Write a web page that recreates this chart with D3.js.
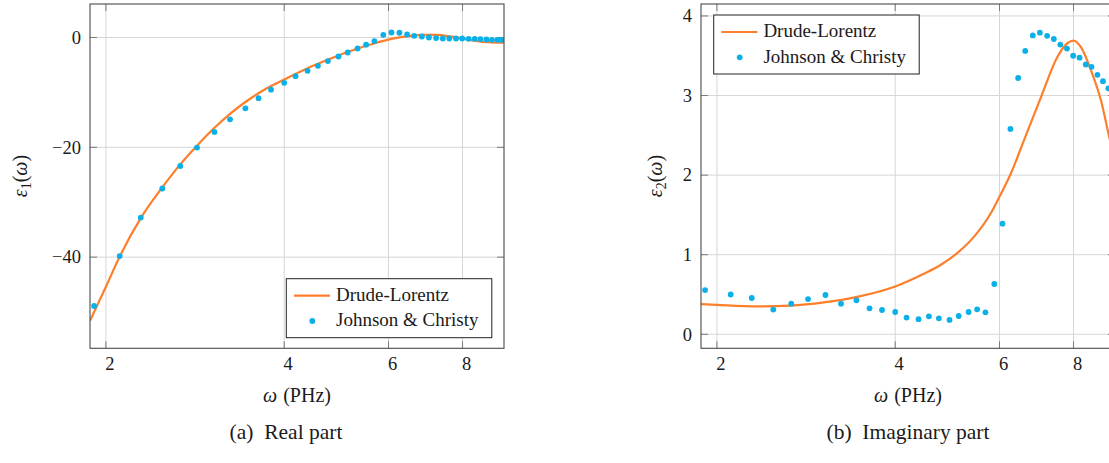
<!DOCTYPE html>
<html>
<head>
<meta charset="utf-8">
<script src="https://cdn.jsdelivr.net/npm/d3@7"></script>
<style>
  html, body { margin: 0; padding: 0; background: #fff; }
  svg { display: block; }
  text { font-family: "Liberation Serif", "DejaVu Serif", serif; fill: #1a1a1a; }
</style>
</head>
<body>
<svg id="chart" width="1109" height="463" font-family="Liberation Serif, DejaVu Serif, serif"></svg>
<script>
// Johnson & Christy sample frequencies (PHz)
const omega = [1.91, 2.11, 2.29, 2.49, 2.67, 2.85, 3.05, 3.24, 3.44, 3.62,
  3.80, 4.00, 4.18, 4.38, 4.56, 4.74, 4.94, 5.12, 5.32, 5.50,
  5.68, 5.88, 6.07, 6.26, 6.45, 6.63, 6.83, 7.02, 7.22, 7.41,
  7.60, 7.80, 7.99, 8.19, 8.39, 8.58, 8.78, 8.97, 9.16, 9.32];

const eps1JC = [-48.9, -39.8, -32.8, -27.5, -23.4, -20.05, -17.2, -14.9, -12.9, -11.05,
  -9.5, -8.26, -7.04, -6.07, -5.16, -4.3, -3.46, -2.73, -2.0, -1.3,
  -0.66, 0.49, 0.91, 0.86, 0.55, 0.31, 0.18, 0.0, -0.11, -0.18,
  -0.18, -0.18, -0.18, -0.24, -0.24, -0.29, -0.36, -0.42, -0.42, -0.42];

const eps2JC = [0.556, 0.50, 0.456, 0.31, 0.385, 0.443, 0.494, 0.385, 0.427, 0.326,
  0.305, 0.28, 0.21, 0.19, 0.226, 0.20, 0.18, 0.23, 0.28, 0.314,
  0.276, 0.632, 1.39, 2.58, 3.22, 3.56, 3.755, 3.79, 3.75, 3.71,
  3.64, 3.59, 3.50, 3.475, 3.39, 3.36, 3.26, 3.18, 3.09, 2.98];

// Drude-Lorentz model
const dlOmega1 = [1.88, 2.0, 2.11, 2.29, 2.49, 2.67, 2.85, 3.05, 3.24, 3.44, 3.62, 3.80, 4.0,
  4.38, 4.74, 5.13, 5.69, 6.07, 6.46, 6.84, 7.24, 7.62, 8.01, 8.42, 8.82, 9.4];
const dlEps1 = [-51.6, -45.4, -39.9, -32.9, -27.3, -23.1, -19.7, -16.45, -13.9, -11.75, -10.15, -8.85, -7.65,
  -5.6, -4.05, -2.6, -1.05, -0.26, 0.24, 0.47, 0.46, 0.2, -0.2, -0.6, -0.85, -0.95];

const dlOmega2 = [1.88, 2.0, 2.34, 2.66, 3.03, 3.45, 4.0, 4.47, 4.77, 5.09, 5.44, 5.80, 6.0,
  6.27, 6.60, 7.05, 7.52, 7.82, 8.0, 8.23, 8.56, 8.90, 9.22, 9.4];
const dlEps2 = [0.38, 0.37, 0.35, 0.36, 0.40, 0.47, 0.60, 0.76, 0.87, 1.02, 1.23, 1.52, 1.73,
  2.02, 2.44, 2.98, 3.49, 3.66, 3.69, 3.61, 3.32, 2.94, 2.44, 2.2];

const xTicks = [2, 4, 6, 8];
const y1Ticks = [-40, -20, 0];
const y2Ticks = [0, 1, 2, 3, 4];

const seriesNames = ['Drude-Lorentz', 'Johnson & Christy'];

const ORANGE = '#fd7f2c';
const BLUE = '#0bb0e8';

const svg = d3.select('#chart');

function drawPanel(cfg) {
  const top = 4, bottom = 348.3, left = cfg.left, right = cfg.left + 414;
  const x = d3.scaleLog().domain([1.88, 9.4]).range([left, right]);
  const y = d3.scaleLinear().domain(cfg.yDomain).range([bottom, top]);

  const g = svg.append('g').attr('class', 'panel-' + cfg.id);

  g.append('defs').append('clipPath')
    .attr('id', 'clip-' + cfg.id)
    .append('rect')
    .attr('x', left).attr('y', top)
    .attr('width', right - left).attr('height', bottom - top);

  // grid
  const grid = g.append('g').attr('class', 'grid')
    .attr('stroke', '#d6d6d6').attr('stroke-width', 1);
  grid.selectAll('.gx').data(xTicks).join('line')
    .attr('x1', d => x(d)).attr('x2', d => x(d))
    .attr('y1', top).attr('y2', bottom);
  grid.selectAll('.gy').data(cfg.yTicks).join('line')
    .attr('x1', left).attr('x2', right)
    .attr('y1', d => y(d)).attr('y2', d => y(d));

  // tick marks inside, on all four sides
  const ticks = g.append('g').attr('stroke', '#7a7a7a').attr('stroke-width', 1);
  xTicks.forEach(d => {
    ticks.append('line').attr('x1', x(d)).attr('x2', x(d)).attr('y1', bottom).attr('y2', bottom - 7);
    ticks.append('line').attr('x1', x(d)).attr('x2', x(d)).attr('y1', top).attr('y2', top + 7);
  });
  cfg.yTicks.forEach(d => {
    ticks.append('line').attr('x1', left).attr('x2', left + 7).attr('y1', y(d)).attr('y2', y(d));
    ticks.append('line').attr('x1', right).attr('x2', right - 7).attr('y1', y(d)).attr('y2', y(d));
  });

  // tick labels
  g.append('g').selectAll('text').data(xTicks).join('text')
    .attr('x', d => x(d) + 4).attr('y', 369.5)
    .attr('text-anchor', 'middle').attr('font-size', 18.5)
    .text(d => d);
  g.append('g').selectAll('text').data(cfg.yTicks).join('text')
    .attr('x', left - 9).attr('y', d => y(d)).attr('dy', '0.34em')
    .attr('text-anchor', 'end').attr('font-size', 18.5)
    .text(d => d3.format('')(d).replace('-', '\u2212'));

  // data
  const plot = g.append('g').attr('clip-path', `url(#clip-${cfg.id})`);
  const line = d3.line()
    .x(d => x(d[0])).y(d => y(d[1]))
    .curve(d3.curveMonotoneX);
  plot.append('path')
    .datum(d3.zip(cfg.dlX, cfg.dlY))
    .attr('d', line)
    .attr('fill', 'none').attr('stroke', ORANGE).attr('stroke-width', 2.2);
  plot.selectAll('circle').data(d3.zip(omega, cfg.jc)).join('circle')
    .attr('cx', d => x(d[0])).attr('cy', d => y(d[1]))
    .attr('r', 2.9).attr('fill', BLUE);

  // frame
  g.append('rect')
    .attr('x', left).attr('y', top)
    .attr('width', right - left).attr('height', bottom - top)
    .attr('fill', 'none').attr('stroke', '#4a4a4a').attr('stroke-width', 1.1);

  // axis labels
  const xl = g.append('text')
    .attr('x', (left + right) / 2).attr('y', 402)
    .attr('text-anchor', 'middle').attr('font-size', 20);
  xl.append('tspan').attr('font-style', 'italic').text('\u03c9');
  xl.append('tspan').attr('dx', 1).text(' (PHz)');

  const yl = g.append('text')
    .attr('transform', `translate(${cfg.yLabelX}, 176) rotate(-90)`)
    .attr('text-anchor', 'middle').attr('font-size', 20);
  yl.append('tspan').attr('font-style', 'italic').text('\u03b5');
  yl.append('tspan').attr('font-size', 14).attr('dy', 4).text(cfg.sub);
  yl.append('tspan').attr('dy', -4).text('(');
  yl.append('tspan').attr('font-style', 'italic').text('\u03c9');
  yl.append('tspan').text(')');

  // caption
  g.append('text')
    .attr('x', cfg.captionX).attr('y', 439)
    .attr('text-anchor', 'middle').attr('font-size', 21.5)
    .attr('xml:space', 'preserve')
    .text(cfg.caption);

  // legend
  const lg = g.append('g').attr('transform', `translate(${cfg.legend[0]}, ${cfg.legend[1]})`);
  lg.append('rect')
    .attr('width', 205.5).attr('height', 59)
    .attr('fill', '#fff').attr('stroke', '#222').attr('stroke-width', 1);
  lg.append('line')
    .attr('x1', 7.7).attr('x2', 43.7).attr('y1', 17).attr('y2', 17)
    .attr('stroke', ORANGE).attr('stroke-width', 2.2);
  lg.append('circle').attr('cx', 26).attr('cy', 42.3).attr('r', 2.9).attr('fill', BLUE);
  lg.selectAll('text.entry').data(seriesNames).join('text')
    .attr('class', 'entry')
    .attr('x', 49.7).attr('y', (d, i) => 22.3 + i * 25.3)
    .attr('font-size', 19)
    .text(d => d);
}

drawPanel({
  id: 'real', left: 90, yDomain: [-56.6, 6.1], yTicks: y1Ticks,
  dlX: dlOmega1, dlY: dlEps1, jc: eps1JC,
  sub: '1', yLabelX: 27, caption: '(a)  Real part', captionX: 286,
  legend: [286.3, 278.7]
});

drawPanel({
  id: 'imag', left: 701, yDomain: [-0.176, 4.15], yTicks: y2Ticks,
  dlX: dlOmega2, dlY: dlEps2, jc: eps2JC,
  sub: '2', yLabelX: 662, caption: '(b)  Imaginary part', captionX: 908,
  legend: [713.7, 15]
});
</script>
</body>
</html>
